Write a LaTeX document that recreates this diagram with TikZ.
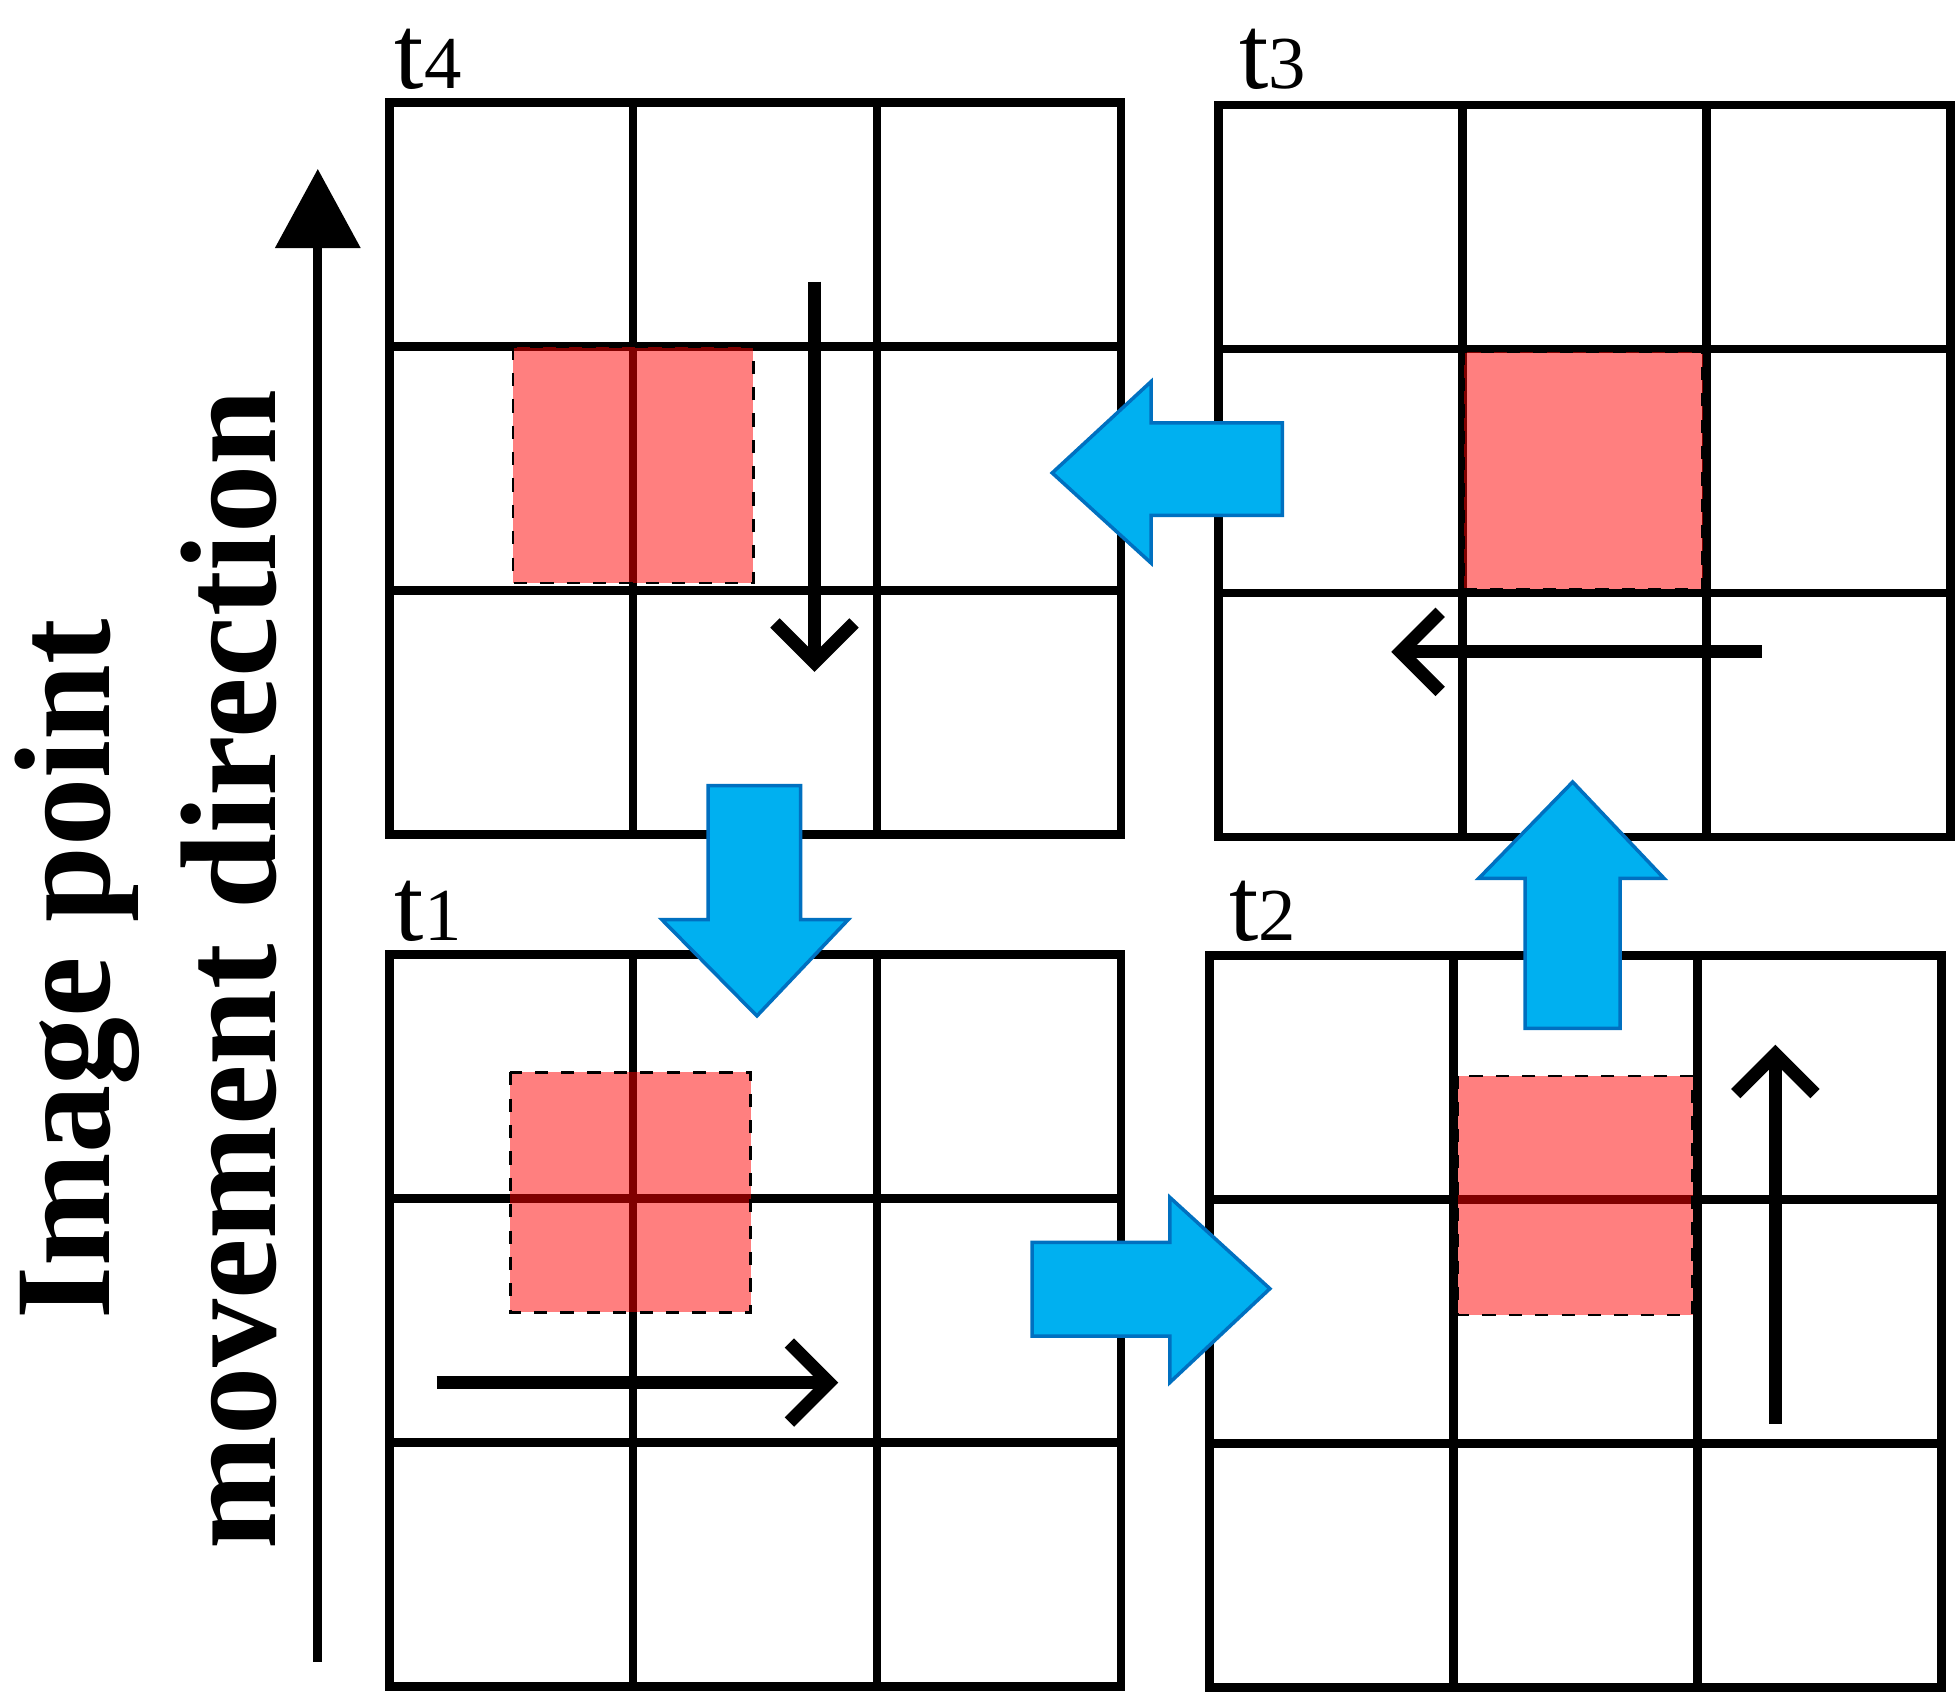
\documentclass[tikz,border=0pt]{standalone}
\usepackage{fontspec}
\setmainfont{Liberation Serif}
\usetikzlibrary
  {
    arrows.meta, % arrow heads
    calc,
    positioning, % place nodes relative to other nodes
  }
\definecolor{flowblue}{RGB}{0,176,240}
\definecolor{flowedge}{RGB}{0,112,192}
\tikzset{
  cellline/.style={line width=2pt},
  overlap/.style={fill=red,fill opacity=0.5,draw=black,dashed,line width=0.6pt},
  track/.style={line width=3pt,-{Straight Barb[length=9pt,width=18pt,line width=3pt]}},
  flow/.style={fill=flowblue,draw=flowedge,line width=0.8pt},
  stamp/.style={font=\fontsize{24}{24}\selectfont,anchor=south west,inner sep=0pt},
}
% draw a 3x3 grid whose top left corner is #1
\newcommand{\cellgrid}[1]{%
  \foreach \i in {0,1,2}
    \foreach \j in {0,1,2}
      \draw [cellline] ($(#1)+(1.95*\i,1.95*\j)$) rectangle ++(1.95,1.95);
}
\begin{document}
\begin{tikzpicture}[x=1cm,y=-1cm]
  \useasboundingbox (0,0) rectangle (15.65,13.65);

  % grid corners
  \coordinate (g4) at (3.11,0.82);
  \coordinate (g3) at (9.74,0.84);
  \coordinate (g1) at (3.11,7.63);
  \coordinate (g2) at (9.67,7.64);

  \cellgrid{g4}
  \cellgrid{g3}
  \cellgrid{g1}
  \cellgrid{g2}

  % overlapping pixel areas
  \draw [overlap] (4.10,2.77) rectangle (6.02,4.66);
  \draw [overlap] (11.70,2.81) rectangle (13.61,4.71);
  \draw [overlap] (4.08,8.57) rectangle (6.00,10.49);
  \draw [overlap] (11.65,8.60) rectangle (13.53,10.51);

  \node [stamp] (l4) at (3.15,0.72) {t\fontsize{17}{17}\selectfont 4};
  \node [stamp] (l3) at (9.90,0.72) {t\fontsize{17}{17}\selectfont 3};
  \node [stamp] (l1) at (3.15,7.53) {t\fontsize{17}{17}\selectfont 1};
  \node [stamp] (l2) at (9.82,7.53) {t\fontsize{17}{17}\selectfont 2};

  % movement inside each grid
  \coordinate (a4) at (6.51,2.25);  \coordinate (b4) at (6.51,5.37);
  \coordinate (a3) at (14.08,5.21); \coordinate (b3) at (11.12,5.21);
  \coordinate (a1) at (3.49,11.05); \coordinate (b1) at (6.70,11.05);
  \coordinate (a2) at (14.19,11.38); \coordinate (b2) at (14.19,8.35);
  \foreach \k in {1,...,4}
    \draw [track] (a\k) -- (b\k);

  % block arrows between grids
  \draw [flow] (10.25,3.38) -- (9.20,3.38) -- (9.20,3.05) -- (8.41,3.78)
    -- (9.20,4.50) -- (9.20,4.12) -- (10.25,4.12) -- cycle;
  \draw [flow] (5.66,6.28) -- (5.66,7.35) -- (5.29,7.35) -- (6.05,8.12)
    -- (6.78,7.35) -- (6.40,7.35) -- (6.40,6.28) -- cycle;
  \draw [flow] (8.25,9.93) -- (9.35,9.93) -- (9.35,9.57) -- (10.15,10.30)
    -- (9.35,11.05) -- (9.35,10.68) -- (8.25,10.68) -- cycle;
  \draw [flow] (12.19,8.22) -- (12.19,7.02) -- (11.82,7.02) -- (12.57,6.25)
    -- (13.30,7.02) -- (12.95,7.02) -- (12.95,8.22) -- cycle;

  % axis
  \coordinate (ax0) at (2.54,13.28);
  \coordinate (ax1) at (2.54,1.35);
  \draw [line width=2pt,-{Triangle[length=18pt,width=19pt]}] (ax0) -- (ax1);
  \node [rotate=90,font=\bfseries\fontsize{31}{31}\selectfont] (top) at (0.62,7.75) {Image point};
  \node [rotate=90,font=\bfseries\fontsize{31}{31}\selectfont] (bot) at (1.83,7.75) {movement direction};
\end{tikzpicture}
\end{document}
